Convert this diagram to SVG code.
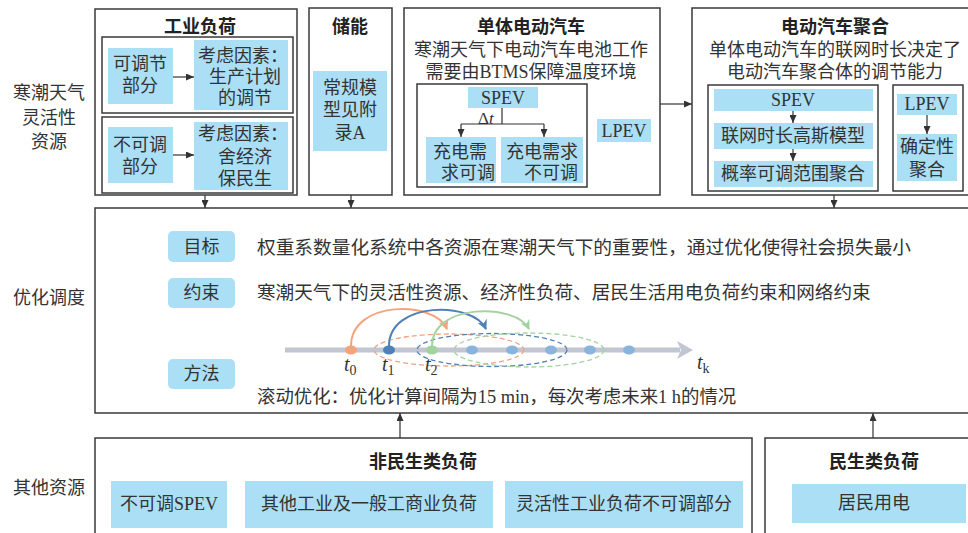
<svg xmlns="http://www.w3.org/2000/svg" width="968" height="533" viewBox="0 0 968 533">
<style>
.box{fill:none;stroke:#3a3a3a;stroke-width:1.5}
.bl{fill:#abdff5}
.pill{fill:#abdff5}
.t{font-family:"Liberation Serif","Noto Sans CJK SC",serif;font-size:18px;fill:#333;dominant-baseline:central}
.h{font-family:"Noto Sans CJK SC",sans-serif;font-weight:bold;font-size:18px;fill:#222;dominant-baseline:central}
.c{text-anchor:middle}
.e{text-anchor:end}
.ln{fill:none;stroke:#333;stroke-width:1.2}
.ti{font-family:"Liberation Serif",serif;font-style:italic;font-size:20px;fill:#333}
.sub{font-family:"Liberation Serif",serif;font-size:14px;fill:#333;font-style:normal}
</style>
<defs>
<marker id="ah" markerUnits="userSpaceOnUse" markerWidth="8" markerHeight="7" refX="8" refY="3.5" orient="auto"><path d="M0,0 L8,3.5 L0,7 z" fill="#333"/></marker>
<marker id="ao" markerUnits="userSpaceOnUse" markerWidth="11" markerHeight="10" refX="9" refY="5" orient="auto"><path d="M0,0 L10,5 L0,10 L3,5 z" fill="#f4a47c"/></marker>
<marker id="ab" markerUnits="userSpaceOnUse" markerWidth="11" markerHeight="10" refX="9" refY="5" orient="auto"><path d="M0,0 L10,5 L0,10 L3,5 z" fill="#4f80b6"/></marker>
<marker id="ag" markerUnits="userSpaceOnUse" markerWidth="11" markerHeight="10" refX="9" refY="5" orient="auto"><path d="M0,0 L10,5 L0,10 L3,5 z" fill="#a3d3a0"/></marker>
<marker id="at" markerUnits="userSpaceOnUse" markerWidth="18" markerHeight="18" refX="3" refY="9" orient="auto"><path d="M0,0 L16,9 L0,18 L4,9 z" fill="#c2c6d3"/></marker>
</defs>
<rect width="968" height="533" fill="#fff"/>

<g id="row-labels">
<text class="t c" x="49" y="93">寒潮天气</text>
<text class="t c" x="49" y="118">灵活性</text>
<text class="t c" x="49" y="142">资源</text>
<text class="t c" x="49" y="298">优化调度</text>
<text class="t c" x="49" y="488">其他资源</text>
</g>

<g id="industrial">
<rect class="box" x="95" y="9" width="202" height="186"/>
<text class="h c" x="200" y="25">工业负荷</text>
<rect class="box" x="102" y="37" width="191" height="76"/>
<rect class="box" x="102" y="117" width="191" height="76"/>
<rect class="bl" x="108" y="48" width="65" height="56"/>
<text class="t c" x="140" y="64">可调节</text>
<text class="t c" x="140" y="86">部分</text>
<rect class="bl" x="194" y="40" width="94" height="70"/>
<text class="t c" x="243" y="56">考虑因素：</text>
<text class="t c" x="245" y="77">生产计划</text>
<text class="t c" x="245" y="98">的调节</text>
<rect class="bl" x="108" y="127" width="65" height="56"/>
<text class="t c" x="140" y="145">不可调</text>
<text class="t c" x="140" y="167">部分</text>
<rect class="bl" x="194" y="122" width="94" height="68"/>
<text class="t c" x="243" y="134">考虑因素：</text>
<text class="t c" x="245" y="157">舍经济</text>
<text class="t c" x="245" y="179">保民生</text>
</g>

<g id="storage">
<rect class="box" x="309" y="8" width="83" height="187"/>
<text class="h c" x="350" y="25">储能</text>
<rect class="bl" x="313" y="71" width="74" height="80"/>
<text class="t c" x="350" y="88">常规模</text>
<text class="t c" x="350" y="110">型见附</text>
<text class="t c" x="350" y="133">录A</text>
</g>

<g id="single-ev">
<rect class="box" x="404" y="8" width="256" height="187"/>
<text class="h c" x="531" y="25">单体电动汽车</text>
<text class="t c" x="531" y="50">寒潮天气下电动汽车电池工作</text>
<text class="t c" x="531" y="72">需要由BTMS保障温度环境</text>
<rect class="box" x="417" y="84" width="170" height="103"/>
<rect class="bl" x="468" y="87" width="70" height="21"/>
<text class="t c" x="503" y="98">SPEV</text>
<text class="t" x="478" y="118" style="font-size:17px">Δ<tspan font-style="italic">t</tspan></text>
<rect class="bl" x="426" y="137" width="70" height="46"/>
<text class="t" x="433" y="152">充电需</text>
<text class="t" x="441" y="173">求可调</text>
<rect class="bl" x="501" y="137" width="82" height="46"/>
<text class="t e" x="578" y="152">充电需求</text>
<text class="t e" x="578" y="173">不可调</text>
<rect class="bl" x="597" y="119" width="54" height="23"/>
<text class="t c" x="624" y="131">LPEV</text>
</g>

<g id="ev-aggregate">
<rect class="box" x="692" y="8" width="290" height="187"/>
<text class="h c" x="835" y="25">电动汽车聚合</text>
<text class="t c" x="835" y="50">单体电动汽车的联网时长决定了</text>
<text class="t c" x="835" y="72">电动汽车聚合体的调节能力</text>
<rect class="box" x="708" y="85" width="170" height="106"/>
<rect class="bl" x="714" y="89" width="159" height="22"/>
<text class="t c" x="793" y="100">SPEV</text>
<rect class="bl" x="714" y="123" width="159" height="26"/>
<text class="t c" x="793" y="136">联网时长高斯模型</text>
<rect class="bl" x="714" y="161" width="159" height="26"/>
<text class="t c" x="793" y="174">概率可调范围聚合</text>
<rect class="box" x="893" y="85" width="70" height="106"/>
<rect class="bl" x="897" y="94" width="60" height="21"/>
<text class="t c" x="927" y="104">LPEV</text>
<rect class="bl" x="897" y="134" width="60" height="47"/>
<text class="t c" x="927" y="147">确定性</text>
<text class="t c" x="927" y="170">聚合</text>
</g>

<g id="optimization">
<rect class="box" x="95" y="208" width="890" height="205"/>
<rect class="pill" x="168" y="231" width="67" height="31" rx="5"/>
<text class="t c" x="201.5" y="247">目标</text>
<rect class="pill" x="168" y="278" width="67" height="30" rx="5"/>
<text class="t c" x="201.5" y="293">约束</text>
<rect class="pill" x="168" y="359" width="67" height="30" rx="5"/>
<text class="t c" x="201.5" y="374">方法</text>
<text class="t" x="257" y="247" style="font-size:18.7px">权重系数量化系统中各资源在寒潮天气下的重要性，通过优化使得社会损失最小</text>
<text class="t" x="257" y="292" style="font-size:18.6px">寒潮天气下的灵活性资源、经济性负荷、居民生活用电负荷约束和网络约束</text>
<text class="t" x="257" y="397" style="font-size:18.4px">滚动优化：优化计算间隔为15 min，每次考虑未来1 h的情况</text>
</g>

<g id="timeline">
<line x1="285" y1="350" x2="680" y2="350" stroke="#c2c6d3" stroke-width="5" marker-end="url(#at)"/>
<ellipse cx="449" cy="350" rx="75" ry="16" fill="none" stroke="#f4a47c" stroke-width="1.3" stroke-dasharray="5,3"/>
<ellipse cx="492" cy="350" rx="75" ry="16.5" fill="none" stroke="#4f80b6" stroke-width="1.3" stroke-dasharray="5,3"/>
<ellipse cx="529" cy="350" rx="75" ry="17" fill="none" stroke="#a3d3a0" stroke-width="1.3" stroke-dasharray="5,3"/>
<path d="M351,346 C351,300 435,300 447,329" fill="none" stroke="#f4a47c" stroke-width="2" marker-end="url(#ao)"/>
<path d="M389,346 C389,301 473,301 486,329" fill="none" stroke="#4f80b6" stroke-width="2" marker-end="url(#ab)"/>
<path d="M432,346 C432,303 516,303 529,329" fill="none" stroke="#a3d3a0" stroke-width="2" marker-end="url(#ag)"/>
<ellipse cx="351" cy="350" rx="6" ry="4.5" fill="#f4a47c"/>
<ellipse cx="389" cy="350" rx="6" ry="4.5" fill="#4f80b6"/>
<ellipse cx="432" cy="350" rx="6" ry="4.5" fill="#a3d3a0"/>
<ellipse cx="472" cy="350" rx="6" ry="4.5" fill="#8ab4dc"/>
<ellipse cx="512" cy="350" rx="6" ry="4.5" fill="#8ab4dc"/>
<ellipse cx="551" cy="350" rx="6" ry="4.5" fill="#8ab4dc"/>
<ellipse cx="590" cy="350" rx="6" ry="4.5" fill="#8ab4dc"/>
<ellipse cx="629" cy="350" rx="6" ry="4.5" fill="#8ab4dc"/>
<text class="ti" x="344" y="371">t<tspan class="sub" dy="4">0</tspan></text>
<text class="ti" x="382" y="371">t<tspan class="sub" dy="4">1</tspan></text>
<text class="ti" x="425" y="371">t<tspan class="sub" dy="4">2</tspan></text>
<text class="ti" x="697" y="369">t<tspan class="sub" dy="4" font-style="italic">k</tspan></text>
</g>

<g id="non-livelihood">
<rect class="box" x="95" y="438" width="657" height="110"/>
<text class="h c" x="423" y="460">非民生类负荷</text>
<rect class="bl" x="111" y="481" width="116" height="47"/>
<text class="t c" x="169" y="504">不可调SPEV</text>
<rect class="bl" x="245" y="481" width="248" height="47"/>
<text class="t c" x="369" y="504">其他工业及一般工商业负荷</text>
<rect class="bl" x="505" y="481" width="238" height="47"/>
<text class="t c" x="624" y="504">灵活性工业负荷不可调部分</text>
</g>

<g id="livelihood">
<rect class="box" x="765" y="438" width="220" height="110"/>
<text class="h c" x="874" y="460">民生类负荷</text>
<rect class="bl" x="792" y="484" width="174" height="39"/>
<text class="t c" x="874" y="503">居民用电</text>
</g>

<g id="connectors">
<line class="ln" x1="173" y1="77" x2="194" y2="77" marker-end="url(#ah)"/>
<line class="ln" x1="173" y1="155" x2="194" y2="155" marker-end="url(#ah)"/>
<path class="ln" d="M502,108 V124 M461,124 H544"/>
<line class="ln" x1="461" y1="124" x2="461" y2="137" marker-end="url(#ah)"/>
<line class="ln" x1="544" y1="124" x2="544" y2="137" marker-end="url(#ah)"/>
<line class="ln" x1="660" y1="104" x2="692" y2="104" marker-end="url(#ah)"/>
<line class="ln" x1="793" y1="111" x2="793" y2="123" marker-end="url(#ah)"/>
<line class="ln" x1="793" y1="149" x2="793" y2="161" marker-end="url(#ah)"/>
<line class="ln" x1="927" y1="115" x2="927" y2="134" marker-end="url(#ah)"/>
<line class="ln" x1="205" y1="195" x2="205" y2="208" marker-end="url(#ah)"/>
<line class="ln" x1="351" y1="195" x2="351" y2="208" marker-end="url(#ah)"/>
<line class="ln" x1="834" y1="195" x2="834" y2="208" marker-end="url(#ah)"/>
<line class="ln" x1="400" y1="438" x2="400" y2="413" marker-end="url(#ah)"/>
<line class="ln" x1="873" y1="438" x2="873" y2="413" marker-end="url(#ah)"/>
</g>
</svg>
